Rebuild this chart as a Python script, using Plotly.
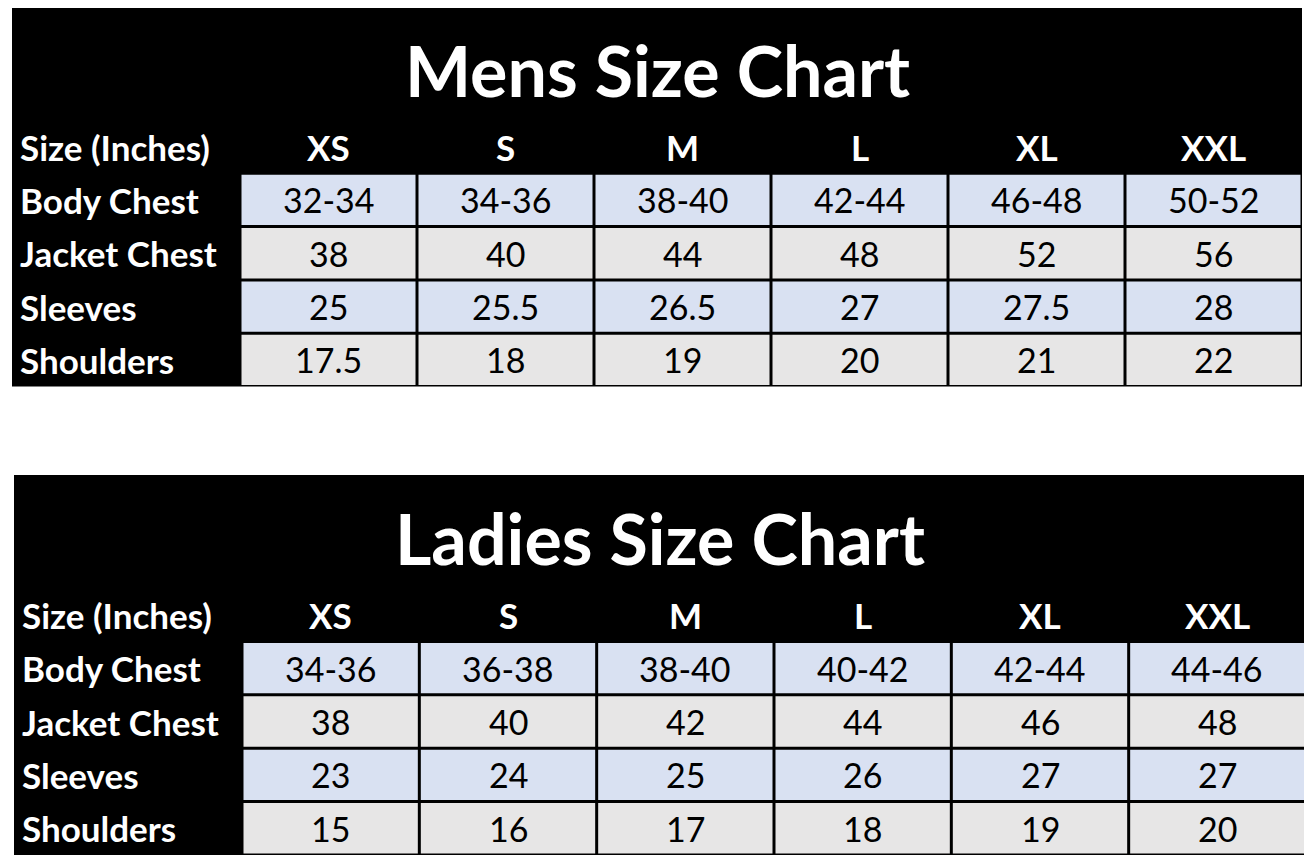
import plotly.graph_objects as go

sizes = ["XS", "S", "M", "L", "XL", "XXL"]
row_labels = ["Body Chest", "Jacket Chest", "Sleeves", "Shoulders"]
mens_body_chest = ["32-34", "34-36", "38-40", "42-44", "46-48", "50-52"]
mens_jacket_chest = ["38", "40", "44", "48", "52", "56"]
mens_sleeves = ["25", "25.5", "26.5", "27", "27.5", "28"]
mens_shoulders = ["17.5", "18", "19", "20", "21", "22"]
ladies_body_chest = ["34-36", "36-38", "38-40", "40-42", "42-44", "44-46"]
ladies_jacket_chest = ["38", "40", "42", "44", "46", "48"]
ladies_sleeves = ["23", "24", "25", "26", "27", "27"]
ladies_shoulders = ["15", "16", "17", "18", "19", "20"]

W, H = 1312, 866
OFF = 8  # page body margin
BLUE = "#D9E1F2"
GRAY = "#E7E6E6"
FONT = "Lato"

shapes, anns = [], []

def table(title, rows, x0, x1, y0, title_h, row_h, label_w):
    col_w = (x1 - x0 - label_w) / len(sizes)
    y_end = y0 + title_h + row_h * (len(rows) + 1)
    shapes.append(dict(type="rect", x0=x0, x1=x1, y0=y0, y1=y_end, fillcolor="black", line_width=0, layer="below"))
    anns.append(dict(x=(x0 + x1) / 2, y=y0 + title_h / 2 + 6, text=f"<b>{title}</b>", showarrow=False,
                     font=dict(family=FONT, size=70, color="white")))
    hy = y0 + title_h
    anns.append(dict(x=x0 + 6, y=hy + row_h / 2, text="<b>Size (Inches)</b>", xanchor="left", showarrow=False,
                     font=dict(family=FONT, size=35, color="white")))
    for j, s in enumerate(sizes):
        cx = x0 + label_w + col_w * (j + 0.5)
        anns.append(dict(x=cx, y=hy + row_h / 2, text=f"<b>{s}</b>", showarrow=False,
                         font=dict(family=FONT, size=35, color="white")))
    for i, (lab, vals) in enumerate(zip(row_labels, rows)):
        ry = hy + row_h * (i + 1)
        anns.append(dict(x=x0 + 6, y=ry + row_h / 2, text=f"<b>{lab}</b>", xanchor="left", showarrow=False,
                         font=dict(family=FONT, size=35, color="white")))
        fill = BLUE if i % 2 == 0 else GRAY
        for j, v in enumerate(vals):
            cx0 = x0 + label_w + col_w * j
            shapes.append(dict(type="rect", x0=cx0 + 1.5, x1=cx0 + col_w - 1.5, y0=ry + 1.5, y1=ry + row_h - 1.5,
                               fillcolor=fill, line_width=0, layer="below"))
            anns.append(dict(x=cx0 + col_w / 2, y=ry + row_h / 2, text=v, showarrow=False,
                             font=dict(family=FONT, size=34, color="black")))

table("Mens Size Chart", [mens_body_chest, mens_jacket_chest, mens_sleeves, mens_shoulders],
      12, 1302, 8, 112, 53.3, 228)
table("Ladies Size Chart", [ladies_body_chest, ladies_jacket_chest, ladies_sleeves, ladies_shoulders],
      14, 1306, 475, 113, 53.4, 228)

fig = go.Figure()
fig.update_layout(width=W, height=H, margin=dict(l=0, r=0, t=0, b=0), paper_bgcolor="white", plot_bgcolor="white",
                  xaxis=dict(range=[OFF, W + OFF], visible=False, fixedrange=True),
                  yaxis=dict(range=[H + OFF, OFF], visible=False, fixedrange=True),
                  shapes=shapes, annotations=anns, showlegend=False)
fig.write_html("out.html", config={"displayModeBar": False})
